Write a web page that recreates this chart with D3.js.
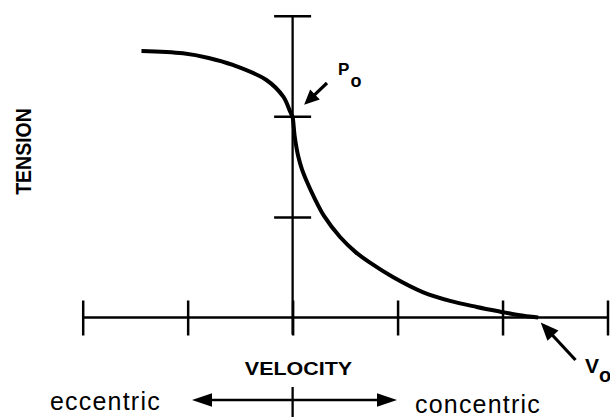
<!DOCTYPE html>
<html>
<head>
<meta charset="utf-8">
<script src="https://cdn.jsdelivr.net/npm/d3@7"></script>
<style>
  body { margin: 0; background: #fff; }
  text { font-family: "Liberation Sans", Arial, Helvetica, sans-serif; fill: #000; }
</style>
</head>
<body>
<div id="chart"></div>
<script>
// force-velocity curve, values
const velocityTicks = [-2, -1, 0, 1, 2, 3];
const tensionTicks = [1, 2, 3];
const curveVelocity = [-1.44, -1.045, -0.8, -0.569, -0.25, -0.089, -0.025, -0.008, 0, 0.02, 0.054, 0.09, 0.128, 0.207, 0.299, 0.452, 0.6, 0.737, 0.959, 1.245, 1.5, 1.754, 1.97, 2.15, 2.34];
const curveTension  = [2.649, 2.626, 2.58, 2.51, 2.361, 2.195, 2.05, 2.01, 1.99, 1.80, 1.60, 1.47, 1.37, 1.19, 1.01, 0.80, 0.65, 0.545, 0.40, 0.25, 0.165, 0.105, 0.06, 0.025, 0];
const p0 = 2, v0 = 2.34;

const width = 610, height = 417;

const x = d3.scaleLinear().domain([-2, 3]).range([82.7, 607.5]);
const y = d3.scaleLinear().domain([0, 3]).range([317.5, 15.7]);

const svg = d3.select("#chart").append("svg")
  .attr("width", width)
  .attr("height", height);

svg.append("rect").attr("width", width).attr("height", height).attr("fill", "#fff");

// horizontal axis, ticks centred on the line
const xAxis = svg.append("g")
  .attr("transform", "translate(0," + (y(0) - 17) + ")")
  .call(d3.axisBottom(x).tickValues(velocityTicks).tickSize(35).tickFormat(""));
xAxis.select(".domain").remove();
xAxis.selectAll("line").attr("stroke-width", 2.5);

svg.append("line")
  .attr("x1", x(-2)).attr("x2", x(3))
  .attr("y1", y(0)).attr("y2", y(0))
  .attr("stroke", "#000").attr("stroke-width", 2.3);

// vertical axis
const yAxis = svg.append("g")
  .attr("transform", "translate(" + (x(0) - 18.5) + ",0)")
  .call(d3.axisRight(y).tickValues(tensionTicks).tickSize(37).tickFormat(""));
yAxis.select(".domain").remove();
yAxis.selectAll("line").attr("stroke-width", 2.5);

svg.append("line")
  .attr("x1", x(0)).attr("x2", x(0))
  .attr("y1", y(3)).attr("y2", y(0) + 17)
  .attr("stroke", "#000").attr("stroke-width", 2.3);

// the curve
const pts = curveVelocity.map((v, i) => [v, curveTension[i]]);
const line = d3.line()
  .x(d => x(d[0]))
  .y(d => y(d[1]))
  .curve(d3.curveCatmullRom.alpha(0.5));

svg.append("path")
  .datum(pts)
  .attr("d", line)
  .attr("fill", "none")
  .attr("stroke", "#000")
  .attr("stroke-width", 4);

// arrow helper: shaft from tail to tip, filled head at tip
function arrow(tail, tip, headLen, headHalf, sw) {
  const dx = tip[0] - tail[0], dy = tip[1] - tail[1];
  const len = Math.sqrt(dx * dx + dy * dy);
  const ux = dx / len, uy = dy / len;
  const bx = tip[0] - ux * headLen, by = tip[1] - uy * headLen;
  svg.append("line")
    .attr("x1", tail[0]).attr("y1", tail[1])
    .attr("x2", bx + ux).attr("y2", by + uy)
    .attr("stroke", "#000").attr("stroke-width", sw);
  svg.append("path")
    .attr("d", "M" + tip[0] + "," + tip[1] +
      "L" + (bx - uy * headHalf) + "," + (by + ux * headHalf) +
      "L" + (bx + uy * headHalf) + "," + (by - ux * headHalf) + "Z")
    .attr("fill", "#000");
}

// P0 and V0 pointers
arrow([327, 83], [x(0) + 11.5, y(p0) - 11.5], 15, 7, 3.2);
arrow([575.5, 360], [x(v0) + 2.5, y(0) + 5], 18, 7.5, 3.2);

const p0Label = svg.append("text").attr("font-weight", "bold");
p0Label.append("tspan").attr("x", 338).attr("y", 75).attr("font-size", 17).text("P");
p0Label.append("tspan").attr("x", 350.5).attr("y", 87).attr("font-size", 18).text("o");

const v0Label = svg.append("text").attr("font-weight", "bold");
v0Label.append("tspan").attr("x", 585).attr("y", 373).attr("font-size", 21).text("V");
v0Label.append("tspan").attr("x", 599).attr("y", 382).attr("font-size", 20).text("o");

// axis titles
svg.append("text")
  .attr("transform", "translate(31,151.5) scale(1.15,1) rotate(-90)")
  .attr("text-anchor", "middle")
  .attr("font-weight", "bold")
  .attr("font-size", 19.5)
  .text("TENSION");

svg.append("text")
  .attr("transform", "translate(298.5,375) scale(1.13,1)")
  .attr("text-anchor", "middle")
  .attr("font-weight", "bold")
  .attr("font-size", 19)
  .text("VELOCITY");

// eccentric / concentric direction arrows
arrow([x(0), 400], [192, 400], 20, 6.7, 2.5);
arrow([x(0), 400], [397, 400], 20, 6.7, 2.5);
svg.append("line")
  .attr("x1", x(0)).attr("x2", x(0))
  .attr("y1", 387).attr("y2", height)
  .attr("stroke", "#000").attr("stroke-width", 2.3);

svg.append("text")
  .attr("x", 50).attr("y", 410)
  .attr("font-size", 25)
  .attr("letter-spacing", 1.2)
  .text("eccentric");

svg.append("text")
  .attr("x", 415).attr("y", 413)
  .attr("font-size", 25)
  .attr("letter-spacing", 1.2)
  .text("concentric");
</script>
</body>
</html>
